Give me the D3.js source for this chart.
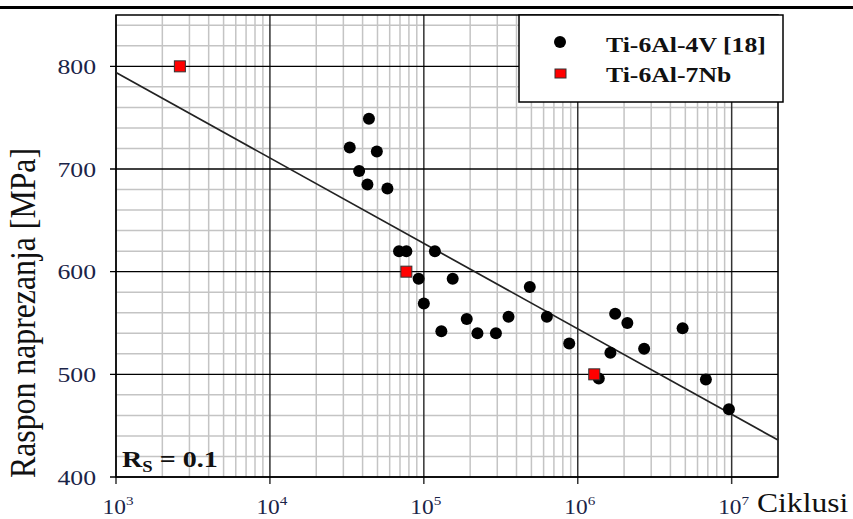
<!DOCTYPE html>
<html>
<head>
<meta charset="utf-8">
<script src="https://cdn.jsdelivr.net/npm/d3@7"></script>
<style>
  body { margin: 0; background: #fff; }
  svg { display: block; font-family: "Liberation Serif", "Times New Roman", serif; }
</style>
</head>
<body>
<svg id="chart" width="853" height="519"></svg>
<script>
// Ti-6Al-4V [18] points (cycles, stress range MPa)
var ti64Cycles = [44000, 33000, 49500, 38000, 43000, 58000, 69000, 77000, 118000, 92500,
  154000, 100000, 130000, 190000, 223000, 294000, 355000, 488000, 630000, 880000,
  1750000, 2100000, 1630000, 2700000, 4800000, 1370000, 6800000, 9600000];
var ti64Stress = [749, 721, 717, 698, 685, 681, 620, 620, 620, 593,
  593, 569, 542, 554, 540, 540, 556, 585, 556, 530,
  559, 550, 521, 525, 545, 496, 495, 466];

// Ti-6Al-7Nb points
var ti7NbCycles = [2600, 77000, 1280000];
var ti7NbStress = [800, 600, 500];

// fitted S-N line end points
var fitCycles = [1e3, 2e7];
var fitStress = [794, 436];

var yTickValues = [400, 500, 600, 700, 800];
var xTickExponents = [3, 4, 5, 6, 7];
var legendLabels = ['Ti-6Al-4V [18]', 'Ti-6Al-7Nb'];

(function() {
  var pLeft = 116, pRight = 778, pTop = 15, pBottom = 477;
  var stretch = 1.17; // text in the source looks a bit wide

  var svg = d3.select('#chart');

  var x = d3.scaleLog().domain([1e3, 2e7]).range([pLeft, pRight]);
  var y = d3.scaleLinear().domain([400, 850]).range([pBottom, pTop]);

  // rule across the top of the page
  svg.append('line')
    .attr('x1', 0).attr('x2', 853).attr('y1', 7.5).attr('y2', 7.5)
    .attr('stroke', '#000').attr('stroke-width', 3);

  var grid = svg.append('g');

  // minor grid
  grid.selectAll('line.xminor')
    .data(x.ticks().filter(function(d) { return Math.abs(Math.log10(d) % 1) > 1e-6; }))
    .enter().append('line')
    .attr('x1', function(d) { return x(d); }).attr('x2', function(d) { return x(d); })
    .attr('y1', pTop).attr('y2', pBottom)
    .attr('stroke', '#c4c4c4').attr('stroke-width', 1.5);
  grid.selectAll('line.yminor')
    .data(d3.range(420, 850, 20).filter(function(d) { return d % 100 !== 0; }))
    .enter().append('line')
    .attr('x1', pLeft).attr('x2', pRight)
    .attr('y1', function(d) { return y(d); }).attr('y2', function(d) { return y(d); })
    .attr('stroke', '#c4c4c4').attr('stroke-width', 1.5);

  // major grid
  grid.selectAll('line.xmajor')
    .data(xTickExponents)
    .enter().append('line')
    .attr('x1', function(d) { return x(Math.pow(10, d)); }).attr('x2', function(d) { return x(Math.pow(10, d)); })
    .attr('y1', pTop).attr('y2', pBottom + 7)
    .attr('stroke', '#333').attr('stroke-width', 1.5);
  grid.selectAll('line.ymajor')
    .data(yTickValues)
    .enter().append('line')
    .attr('x1', pLeft - 6).attr('x2', pRight)
    .attr('y1', function(d) { return y(d); }).attr('y2', function(d) { return y(d); })
    .attr('stroke', '#000').attr('stroke-width', 1.3);

  // frame
  svg.append('rect')
    .attr('x', pLeft).attr('y', pTop)
    .attr('width', pRight - pLeft).attr('height', pBottom - pTop)
    .attr('fill', 'none').attr('stroke', '#000').attr('stroke-width', 1.5);

  // tick labels
  svg.selectAll('text.ytick')
    .data(yTickValues)
    .enter().append('text')
    .attr('transform', function(d) { return 'translate(96,' + (y(d) + 7.5) + ') scale(' + stretch + ',1)'; })
    .attr('text-anchor', 'end')
    .attr('font-size', 22)
    .attr('fill', '#1a2448')
    .text(function(d) { return d; });

  var xt = svg.selectAll('text.xtick')
    .data(xTickExponents)
    .enter().append('text')
    .attr('transform', function(d) { return 'translate(' + (x(Math.pow(10, d)) + 2) + ',514) scale(' + stretch + ',1)'; })
    .attr('text-anchor', 'middle')
    .attr('font-size', 20)
    .attr('fill', '#1a2448');
  xt.append('tspan').text('10');
  xt.append('tspan').attr('font-size', 13).attr('dy', -9).text(function(d) { return d; });

  // axis titles
  svg.append('text')
    .attr('transform', 'translate(757,512) scale(' + stretch + ',1)')
    .attr('font-size', 27)
    .attr('fill', '#111')
    .text('Ciklusi');

  svg.append('text')
    .attr('transform', 'translate(35,313) scale(1.25,1) rotate(-90)')
    .attr('text-anchor', 'middle')
    .attr('font-size', 28)
    .attr('fill', '#111')
    .attr('textLength', 330).attr('lengthAdjust', 'spacingAndGlyphs')
    .text('Raspon  naprezanja [MPa]');

  // fitted line
  svg.append('line')
    .attr('x1', x(fitCycles[0])).attr('y1', y(fitStress[0]))
    .attr('x2', x(fitCycles[1])).attr('y2', y(fitStress[1]))
    .attr('stroke', '#222').attr('stroke-width', 1.7);

  // points
  svg.selectAll('circle.ti64')
    .data(ti64Cycles)
    .enter().append('circle')
    .attr('cx', function(d) { return x(d); })
    .attr('cy', function(d, i) { return y(ti64Stress[i]); })
    .attr('r', 6)
    .attr('fill', '#000');

  svg.selectAll('rect.ti7nb')
    .data(ti7NbCycles)
    .enter().append('rect')
    .attr('x', function(d) { return x(d) - 5.5; })
    .attr('y', function(d, i) { return y(ti7NbStress[i]) - 5.5; })
    .attr('width', 11).attr('height', 11)
    .attr('fill', '#ff0000').attr('stroke', '#333').attr('stroke-width', 1);

  // R_S label
  var rs = svg.append('text')
    .attr('transform', 'translate(122,467) scale(' + stretch + ',1)')
    .attr('font-size', 24).attr('font-weight', 'bold').attr('fill', '#111');
  rs.append('tspan').text('R');
  rs.append('tspan').attr('font-size', 16).attr('dy', 5).text('S');
  rs.append('tspan').attr('dy', -5).text(' = 0.1');

  // legend
  var legend = svg.append('g');
  legend.append('rect')
    .attr('x', 519).attr('y', 15).attr('width', 264).attr('height', 87)
    .attr('fill', '#fff').attr('stroke', '#000').attr('stroke-width', 1.5);
  legend.append('circle').attr('cx', 560).attr('cy', 42).attr('r', 6).attr('fill', '#000');
  legend.append('rect')
    .attr('x', 555).attr('y', 69).attr('width', 11).attr('height', 9)
    .attr('fill', '#ff0000').attr('stroke', '#333').attr('stroke-width', 1);
  legend.selectAll('text')
    .data(legendLabels)
    .enter().append('text')
    .attr('transform', function(d, i) { return 'translate(606,' + (52 + i * 30) + ') scale(' + stretch + ',1)'; })
    .attr('font-size', 22).attr('font-weight', 'bold').attr('fill', '#111')
    .text(function(d) { return d; });
})();
</script>
</body>
</html>
